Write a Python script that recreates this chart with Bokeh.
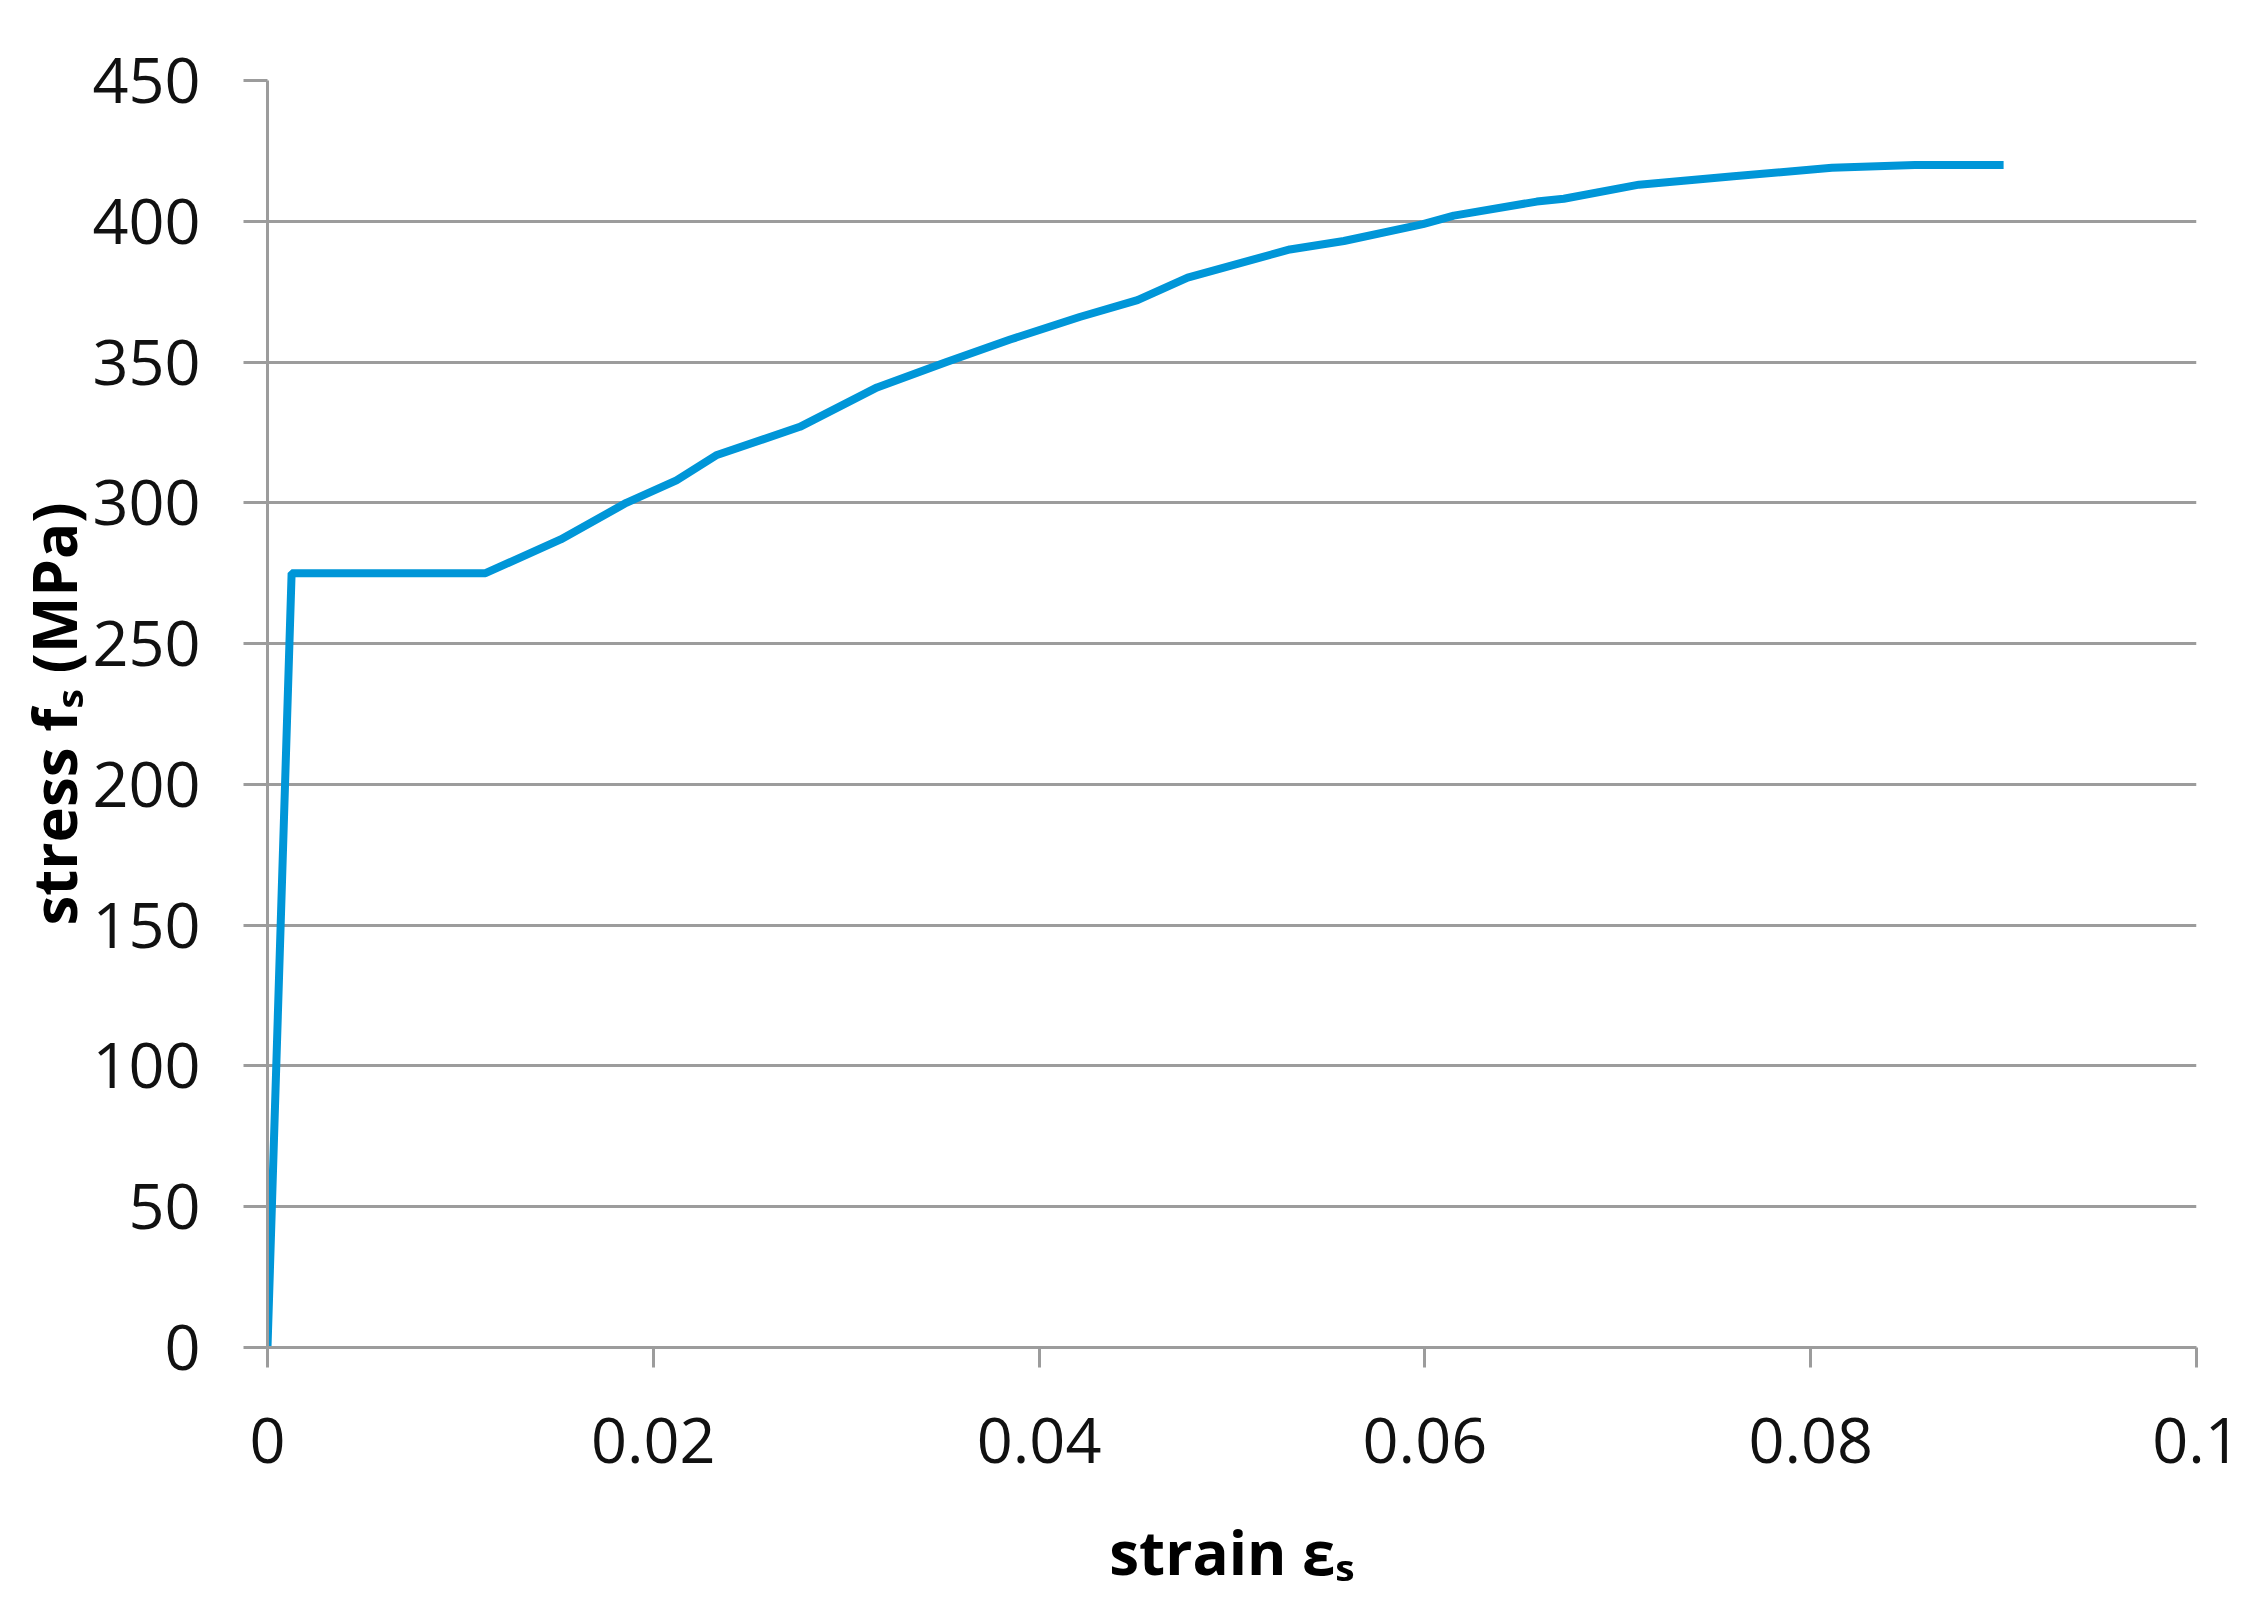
from bokeh.plotting import figure
from bokeh.models import Range1d, FixedTicker
from bokeh.embed import file_html
from bokeh.resources import INLINE

# data
strain = [0, 0.00125, 0.0113, 0.0152, 0.0186, 0.0212, 0.0233, 0.0276, 0.0316,
          0.0352, 0.0385, 0.0421, 0.0451, 0.0477, 0.0530, 0.0558, 0.0599,
          0.0615, 0.0658, 0.0672, 0.0711, 0.0760, 0.0811, 0.0854, 0.0900]
stress = [0, 275, 275, 287, 300, 308, 317, 327, 341,
          350, 358, 366, 372, 380, 390, 393, 399,
          402, 407, 408, 413, 416, 419, 420, 420]

x_ticks = [0, 0.02, 0.04, 0.06, 0.08, 0.1]
x_tick_labels = ["0", "0.02", "0.04", "0.06", "0.08", "0.1"]
y_ticks = [0, 50, 100, 150, 200, 250, 300, 350, 400, 450]
y_tick_labels = [str(v) for v in y_ticks]

x_title = "strain \u03b5\u209b"
y_title = "stress f\u209b (MPa)"

p = figure(width=2248, height=1605, output_backend="svg", toolbar_location=None,
           x_range=Range1d(0, 0.1), y_range=Range1d(0, 450))
p.frame_width = 1929
p.frame_height = 1267
p.min_border_left = 267
p.min_border_right = 52
p.min_border_top = 80
p.min_border_bottom = 258
p.outline_line_color = None
p.background_fill_color = "white"
p.border_fill_color = "white"

p.line(strain, stress, line_color="#0096D8", line_width=8)

grey = "#9c9c9c"
tick_font = "Open Sans"

# x axis
xa = p.xaxis[0]
xa.ticker = FixedTicker(ticks=x_ticks)
xa.major_label_overrides = {t: l for t, l in zip(x_ticks, x_tick_labels)}
xa.axis_line_color = grey
xa.axis_line_width = 3
xa.major_tick_line_color = grey
xa.major_tick_line_width = 3
xa.major_tick_in = 0
xa.major_tick_out = 20
xa.minor_tick_line_color = None
xa.major_label_text_font = tick_font
xa.major_label_text_font_size = "63px"
xa.major_label_text_color = "#111111"
xa.major_label_standoff = 50
xa.axis_label = x_title
xa.axis_label_text_font = "Open Sans, Noto Sans, DejaVu Sans"
xa.axis_label_text_font_style = "bold"
xa.axis_label_text_font_size = "60px"
xa.axis_label_text_color = "black"
xa.axis_label_standoff = 45

# y axis
ya = p.yaxis[0]
ya.ticker = FixedTicker(ticks=y_ticks)
ya.major_label_overrides = {t: l for t, l in zip(y_ticks, y_tick_labels)}
ya.axis_line_color = grey
ya.axis_line_width = 3
ya.major_tick_line_color = grey
ya.major_tick_line_width = 3
ya.major_tick_in = 0
ya.major_tick_out = 24
ya.minor_tick_line_color = None
ya.major_label_text_font = tick_font
ya.major_label_text_font_size = "63px"
ya.major_label_text_color = "#111111"
ya.major_label_standoff = 43
ya.axis_label = y_title
ya.axis_label_text_font = "Open Sans, Noto Sans, DejaVu Sans"
ya.axis_label_text_font_style = "bold"
ya.axis_label_text_font_size = "60px"
ya.axis_label_text_color = "black"
ya.axis_label_standoff = -6

p.xgrid.grid_line_color = None
p.ygrid.ticker = FixedTicker(ticks=y_ticks)
p.ygrid.grid_line_color = grey
p.ygrid.grid_line_width = 3

open("out.html", "w").write(file_html(p, INLINE))
